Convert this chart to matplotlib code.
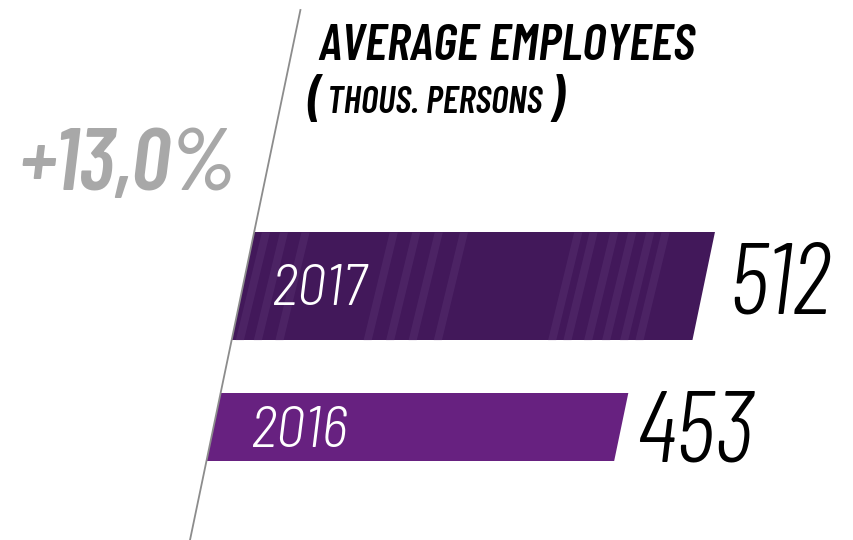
import numpy as np
import matplotlib.pyplot as plt
from matplotlib.transforms import Affine2D

years = ["2017", "2016"]
values = [512, 453]
change_label = "+13,0%"
title = "AVERAGE EMPLOYEES"
subtitle = "THOUS. PERSONS"

W, H = 854, 540
fig = plt.figure(figsize=(W / 100, H / 100), dpi=100)
ax = fig.add_axes([0, 0, 1, 1])
ax.axis("off")

# x in thousand persons, y in image pixels from top
scale = 0.9
x0 = 190
ax.set_xlim(-x0 / scale, (W - x0) / scale)
ax.set_ylim(H, 0)

# everything leans to the right like the divider line
shear = Affine2D().skew(np.arctan(110 / 528), 0)
skew = ax.transData + shear

bar_y = [286, 427]
bar_h = [108, 68]
bar_colors = ["#42185a", "#672180"]
year_pad = [36, 45]
year_base = [305, 447]
num_pad = [33, 25]
num_base = [313, 462]

ax.plot([0, 0], [H, 10], color="#8c8c8c", lw=1.3, transform=skew)

light = ["Barlow Semi Condensed", "DejaVu Sans"]
cond = ["Barlow Condensed", "DejaVu Sans"]

for yr, v, yc, h, c, yp, yb, npad, nb in zip(years, values, bar_y, bar_h,
                                             bar_colors, year_pad, year_base,
                                             num_pad, num_base):
    ax.barh(yc, v, height=h, left=0, color=c, transform=skew, zorder=1)
    ax.text(yp, yb, yr, transform=skew, color="white", fontsize=42,
            style="italic", weight=300, family=light, va="baseline",
            ha="left", zorder=4)
    ax.text(v + npad, nb, str(v), transform=skew, color="black",
            fontsize=73, style="italic", weight=300, family=cond,
            va="baseline", ha="left")

# soft texture on the 2017 bar
stripe_x = [8, 28, 52, 150, 175, 200, 228, 355, 372, 395, 415, 435, 452]
top, bot = bar_y[0] - bar_h[0] / 2, bar_y[0] + bar_h[0] / 2
for sx in stripe_x:
    ax.fill_betweenx([top, bot], [sx, sx - 4], [sx + 9, sx + 5],
                     color="#7a5a96", alpha=0.18, lw=0, transform=skew, zorder=2)

fig.text(236 / W, 1 - 190 / H, change_label, color="#a8a8a8", fontsize=63,
         style="italic", weight=600, family=cond, ha="right", va="baseline")
fig.text(318 / W, 1 - 60 / H, title, color="black", fontsize=37.5,
         style="italic", weight=600, family=cond, ha="left", va="baseline")
fig.text(306 / W, 1 - 117 / H, "(", color="black", fontsize=40,
         style="italic", weight=600, family=cond, ha="left", va="baseline")
fig.text(327 / W, 1 - 113 / H, subtitle, color="black", fontsize=27,
         style="italic", weight=600, family=cond, ha="left", va="baseline")
fig.text(548 / W, 1 - 117 / H, ")", color="black", fontsize=40,
         style="italic", weight=600, family=cond, ha="left", va="baseline")

fig.savefig("out.png", dpi=100, facecolor="white")
